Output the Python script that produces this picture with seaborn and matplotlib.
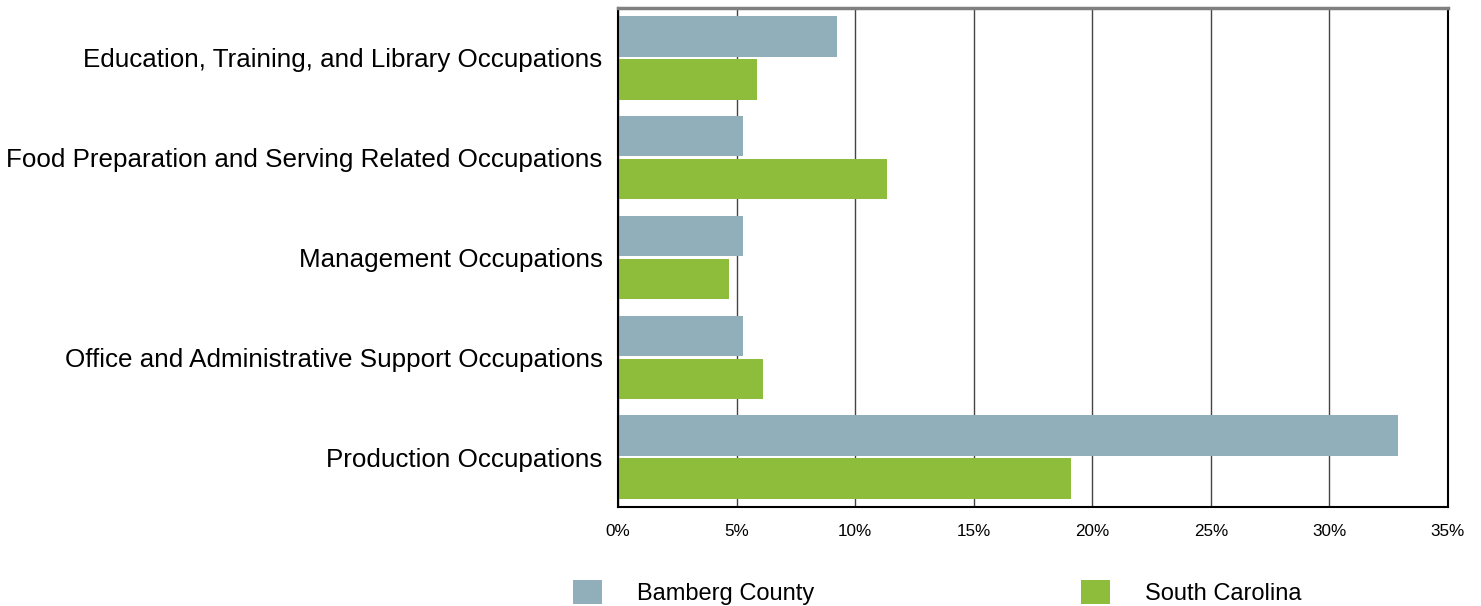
import pandas as pd
import matplotlib.pyplot as plt
import seaborn as sns
from matplotlib.patches import Patch
from matplotlib.ticker import PercentFormatter

# --- DATA ---
occupations = [
    'Education, Training, and Library Occupations',
    'Food Preparation and Serving Related Occupations',
    'Management Occupations',
    'Office and Administrative Support Occupations',
    'Production Occupations',
]
bamberg = [9.24, 5.27, 5.27, 5.27, 32.9]
south_carolina = [5.86, 11.35, 4.68, 6.12, 19.1]
areas = ['Bamberg County', 'South Carolina']
colors = ['#90AFBA', '#8DBD3B']

df = pd.DataFrame({
    'occupation': occupations * 2,
    'area': [areas[0]] * len(occupations) + [areas[1]] * len(occupations),
    'share': bamberg + south_carolina,
})

sns.set_style('white')
plt.rcParams['font.family'] = ['Liberation Sans', 'DejaVu Sans']
plt.rcParams['text.color'] = 'black'
plt.rcParams['xtick.color'] = 'black'
plt.rcParams['ytick.color'] = 'black'

fig = plt.figure(figsize=(14.81, 6.06), dpi=100)
ax = fig.add_axes([0.4173, 0.1634, 0.5604, 0.8234])

sns.barplot(data=df, y='occupation', x='share', hue='area', order=occupations,
            hue_order=areas, palette=colors, width=0.86, gap=0.06,
            saturation=1, orient='h', legend=False, linewidth=0, ax=ax)

ax.set_xlim(0, 35)
ax.set_ylim(4.5, -0.5)
ax.set_xticks(range(0, 36, 5))
ax.xaxis.set_major_formatter(PercentFormatter(decimals=0))
ax.set_xlabel('')
ax.set_ylabel('')
ax.grid(True, axis='x', color='#444444', linewidth=1)
ax.set_axisbelow(True)
ax.tick_params(axis='x', length=0, pad=12, labelsize=12.3)
ax.tick_params(axis='y', length=0, pad=11, labelsize=18.7)

for side in ['left', 'bottom', 'right']:
    ax.spines[side].set_color('black')
    ax.spines[side].set_linewidth(1.5)
ax.spines['top'].set_color('#808080')
ax.spines['top'].set_linewidth(2.5)

handles = [Patch(facecolor=c, edgecolor='none') for c in colors]
fig.legend(handles, areas, loc='center', bbox_to_anchor=(0.633, 0.022),
           ncol=2, frameon=False, fontsize=17, handlelength=1.2,
           handleheight=1.2, handletextpad=1.5, columnspacing=11.3)

fig.savefig('out.png', dpi=100)
